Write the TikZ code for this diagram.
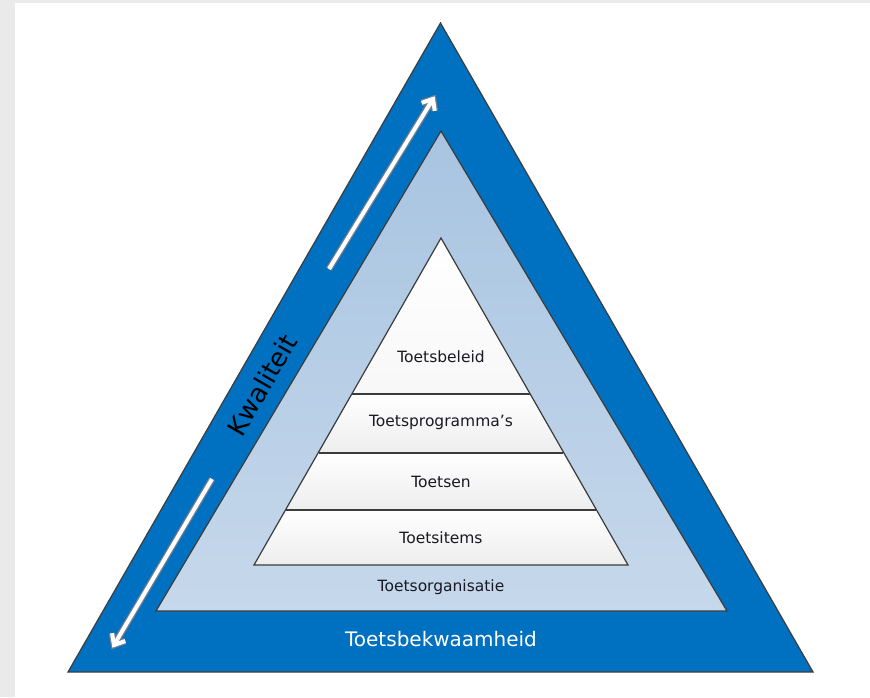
\documentclass[tikz,border=0pt]{standalone}
\usepackage{fontspec}
\setmainfont{DejaVu Sans}
\usetikzlibrary{calc}
\definecolor{bgray}{RGB}{234,234,234}
\definecolor{dblue}{RGB}{0,112,192}
\definecolor{lbtop}{RGB}{168,196,225}
\definecolor{lbbot}{RGB}{198,216,235}
\definecolor{edge}{RGB}{60,60,60}
\definecolor{arrowedge}{RGB}{115,125,140}
\definecolor{labeltext}{RGB}{25,25,35}
\tikzset{
  outline/.style={draw=edge, line width=1.2pt, line join=miter},
  layerlabel/.style={font=\fontsize{15.5}{18}\selectfont, text=labeltext, inner sep=0pt},
  layerfill/.style={top color=white, bottom color=black!7},
  arrowback/.style={draw=arrowedge, line width=6.6pt, line join=miter},
  arrowfront/.style={draw=white, line width=4pt, line join=miter}
}
\begin{document}
\begin{tikzpicture}[x=1pt,y=-1pt]
\path[use as bounding box] (0,0) rectangle (870,697);
\fill[bgray] (0,0) rectangle (870,697);
\fill[white] (15,3) rectangle (870,697);

% outer triangle
\coordinate (oA) at (440.5,23);
\coordinate (oL) at (68,672);
\coordinate (oR) at (813,672);
\filldraw[outline, fill=dblue] (oA) -- (oL) -- (oR) -- cycle;

% middle triangle
\coordinate (mA) at (441,131);
\coordinate (mL) at (156,611);
\coordinate (mR) at (727,611);
\draw[outline, top color=lbtop, bottom color=lbbot] (mA) -- (mL) -- (mR) -- cycle;

% inner pyramid layers
\coordinate (iA) at (441,238);
\coordinate (l1L) at (352,394); \coordinate (l1R) at (530,394);
\coordinate (l2L) at (319,453); \coordinate (l2R) at (563,453);
\coordinate (l3L) at (286,510); \coordinate (l3R) at (596,510);
\coordinate (iL) at (254,565);  \coordinate (iR) at (628,565);
\shade[top color=white, bottom color=black!3] (iA) -- (l1L) -- (l1R) -- cycle;
\shade[layerfill] (l1L) -- (l2L) -- (l2R) -- (l1R) -- cycle;
\shade[layerfill] (l2L) -- (l3L) -- (l3R) -- (l2R) -- cycle;
\shade[layerfill] (l3L) -- (iL) -- (iR) -- (l3R) -- cycle;
\draw[outline] (iA) -- (iL) -- (iR) -- cycle;
\draw[outline] (l1L) -- (l1R);
\draw[outline] (l2L) -- (l2R);
\draw[outline] (l3L) -- (l3R);

% labels
\node[layerlabel] (beleid) at (441,357) {Toetsbeleid};
\node[layerlabel] (programma) at (441,422) {Toetsprogramma’s};
\node[layerlabel] (toetsen) at (441,482) {Toetsen};
\node[layerlabel] (items) at (441,538) {Toetsitems};
\node[layerlabel] (organisatie) at (441,587) {Toetsorganisatie};
\node[font=\fontsize{20}{24}\selectfont, text=white, inner sep=0pt] (bekwaam) at (441,639) {Toetsbekwaamheid};
\node[font=\fontsize{26}{30}\selectfont, text=black, inner sep=0pt, rotate=60] (kwaliteit) at (262,385) {Kwaliteit};

% arrows
\coordinate (upTail) at (329,269);
\coordinate (upTip) at (433,99);
\coordinate (upA) at ($(upTip)!12pt!40:(upTail)$);
\coordinate (upB) at ($(upTip)!12pt!-40:(upTail)$);
\coordinate (dnTail) at (212,479);
\coordinate (dnTip) at (114,645);
\coordinate (dnA) at ($(dnTip)!12pt!40:(dnTail)$);
\coordinate (dnB) at ($(dnTip)!12pt!-40:(dnTail)$);
\foreach \s in {arrowback,arrowfront}{
  \draw[\s] (upTail) -- (upTip) (upA) -- (upTip) -- (upB);
  \draw[\s] (dnTail) -- (dnTip) (dnA) -- (dnTip) -- (dnB);
}
\end{tikzpicture}
\end{document}
